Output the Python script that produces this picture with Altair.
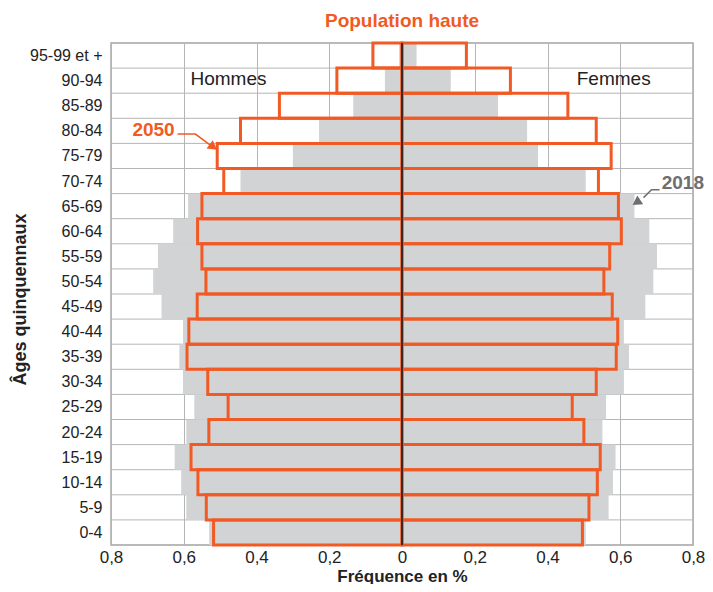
import altair as alt
import pandas as pd

# ---- data ----
ages = ["95-99 et +", "90-94", "85-89", "80-84", "75-79", "70-74", "65-69", "60-64",
        "55-59", "50-54", "45-49", "40-44", "35-39", "30-34", "25-29", "20-24",
        "15-19", "10-14", "5-9", "0-4"]

men_2018 = [0.008, 0.047, 0.134, 0.228, 0.300, 0.444, 0.588, 0.629, 0.671, 0.684,
            0.661, 0.602, 0.612, 0.602, 0.571, 0.593, 0.625, 0.607, 0.593, 0.530]
women_2018 = [0.040, 0.134, 0.264, 0.344, 0.374, 0.505, 0.639, 0.680, 0.701, 0.691,
              0.669, 0.610, 0.624, 0.610, 0.561, 0.551, 0.587, 0.580, 0.568, 0.505]
men_2050 = [0.080, 0.179, 0.337, 0.444, 0.508, 0.490, 0.550, 0.562, 0.550, 0.539,
            0.563, 0.586, 0.591, 0.534, 0.478, 0.531, 0.580, 0.561, 0.538, 0.518]
women_2050 = [0.177, 0.298, 0.456, 0.534, 0.575, 0.540, 0.595, 0.603, 0.571, 0.555,
              0.578, 0.593, 0.589, 0.534, 0.468, 0.500, 0.545, 0.537, 0.514, 0.496]

x_ticks = [-0.8, -0.6, -0.4, -0.2, 0.0, 0.2, 0.4, 0.6, 0.8]

ORANGE = "#f15a24"
GREY = "#d1d3d4"
DARKGREY = "#6d6e71"
FONT = "Liberation Sans"

n = len(ages)
rows = []
for i, a in enumerate(ages):
    pos = n - 1 - i
    rows.append(dict(age=a, pos=pos, top=pos + 1, sex="Hommes", year="2018", v=-men_2018[i]))
    rows.append(dict(age=a, pos=pos, top=pos + 1, sex="Femmes", year="2018", v=women_2018[i]))
    rows.append(dict(age=a, pos=pos, top=pos + 1, sex="Hommes", year="2050", v=-men_2050[i]))
    rows.append(dict(age=a, pos=pos, top=pos + 1, sex="Femmes", year="2050", v=women_2050[i]))
df = pd.DataFrame(rows)
df["zero"] = 0.0

bounds = pd.DataFrame({"b": list(range(n + 1)), "x1": -0.8, "x2": 0.8})

label_array = "[" + ",".join("'" + a + "'" for a in reversed(ages)) + "]"

xscale = alt.Scale(domain=[-0.8, 0.8], nice=False, zero=False)
yscale = alt.Scale(domain=[0, n], nice=False, zero=False)

x_axis = alt.Axis(
    values=x_ticks, grid=True, gridColor="#b5b5b5", gridWidth=1, ticks=False, domain=False,
    labelExpr="abs(datum.value) < 1e-9 ? '0' : replace(format(abs(datum.value), '.1f'), '.', ',')",
    labelFont=FONT, labelFontSize=17, labelColor="#222", labelPadding=4,
    labelFlush=False, labelOverlap=False,
    title="Fréquence en %", titleFont=FONT, titleFontSize=17, titleFontWeight="bold",
    titleColor="#222", titleY=36, titleBaseline="alphabetic",
)
y_axis = alt.Axis(
    values=[p + 0.5 for p in range(n)], grid=False, ticks=False, domain=False,
    labelExpr=label_array + "[floor(datum.value)]",
    labelFont=FONT, labelFontSize=16, labelColor="#222", labelPadding=9,
    labelOverlap=False, labelFlush=False,
    title="Âges quinquennaux", titleFont=FONT, titleFontSize=18, titleFontWeight="bold",
    titleColor="#222", titleX=-91, titleY=256, titleBaseline="middle",
)

hgrid = alt.Chart(bounds).mark_rule(color="#b5b5b5", strokeWidth=1).encode(
    x=alt.X("x1:Q", scale=xscale, axis=x_axis),
    x2="x2:Q",
    y=alt.Y("b:Q", scale=yscale, axis=y_axis),
)

grey_bars = alt.Chart(df[df.year == "2018"]).mark_bar(color=GREY).encode(
    x=alt.X("v:Q", scale=xscale, axis=x_axis), x2="zero:Q",
    y=alt.Y("pos:Q", scale=yscale, axis=y_axis), y2="top:Q",
)

orange_bars = alt.Chart(df[df.year == "2050"]).mark_bar(
    fill="transparent", stroke=ORANGE, strokeWidth=3
).encode(
    x=alt.X("v:Q", scale=xscale, axis=x_axis), x2="zero:Q",
    y=alt.Y("pos:Q", scale=yscale, axis=y_axis), y2="top:Q",
)

zero_df = pd.DataFrame({"x": [0.0], "y1": [0], "y2": [n]})
zero_line = alt.Chart(zero_df).mark_rule(color="#3b2a22", strokeWidth=2).encode(
    x=alt.X("x:Q", scale=xscale, axis=x_axis), y=alt.Y("y1:Q", scale=yscale, axis=y_axis), y2="y2:Q"
)

# annotations
sex_labels = pd.DataFrame({"t": ["Hommes", "Femmes"], "x": [-0.477, 0.582], "y": [18.55, 18.55]})
sex_text = alt.Chart(sex_labels).mark_text(font=FONT, fontSize=19, color="#222").encode(
    x=alt.X("x:Q", scale=xscale, axis=x_axis), y=alt.Y("y:Q", scale=yscale, axis=y_axis), text="t:N"
)

yr_labels = pd.DataFrame({"t": ["2050", "2018"], "x": [-0.683, 0.772], "y": [16.53, 14.42],
                          "c": [ORANGE, DARKGREY]})
yr_text = alt.Chart(yr_labels).mark_text(font=FONT, fontSize=19, fontWeight="bold").encode(
    x=alt.X("x:Q", scale=xscale, axis=x_axis), y=alt.Y("y:Q", scale=yscale, axis=y_axis), text="t:N",
    color=alt.Color("c:N", scale=None),
)

arrow_pts = pd.DataFrame({
    "k": ["2050"] * 3 + ["2018"] * 3,
    "o": [0, 1, 2, 0, 1, 2],
    "x": [-0.617, -0.568, -0.527, 0.708, 0.686, 0.664],
    "y": [16.37, 16.37, 15.93, 14.15, 14.15, 13.84],
    "c": [ORANGE] * 3 + [DARKGREY] * 3,
})
arrow_lines = alt.Chart(arrow_pts).mark_line(strokeWidth=1.5).encode(
    x=alt.X("x:Q", scale=xscale, axis=x_axis), y=alt.Y("y:Q", scale=yscale, axis=y_axis),
    detail="k:N", order="o:Q", color=alt.Color("c:N", scale=None),
)

heads = pd.DataFrame({"x": [-0.522, 0.648], "y": [15.89, 13.68], "a": [126, 236],
                      "c": [ORANGE, DARKGREY]})
arrow_heads = alt.Chart(heads).mark_point(shape="triangle", filled=True, size=110, opacity=1).encode(
    x=alt.X("x:Q", scale=xscale, axis=x_axis), y=alt.Y("y:Q", scale=yscale, axis=y_axis),
    angle=alt.Angle("a:Q", scale=None), color=alt.Color("c:N", scale=None),
)

chart = alt.layer(
    hgrid, grey_bars, orange_bars, zero_line, sex_text, yr_text, arrow_lines, arrow_heads
).properties(
    width=582, height=502,
    autosize=alt.AutoSizeParams(type="none"),
    padding={"left": 103, "top": 35, "right": 12, "bottom": 39},
    title=alt.TitleParams("Population haute", color=ORANGE, fontSize=19, fontWeight="bold",
                          font=FONT, anchor="middle", offset=11),
).configure_view(
    stroke="#a8a8a8", strokeWidth=1.5
).configure_axis(labelOverlap=False)

chart.save("out.html", embed_options={"renderer": "svg", "actions": False})
